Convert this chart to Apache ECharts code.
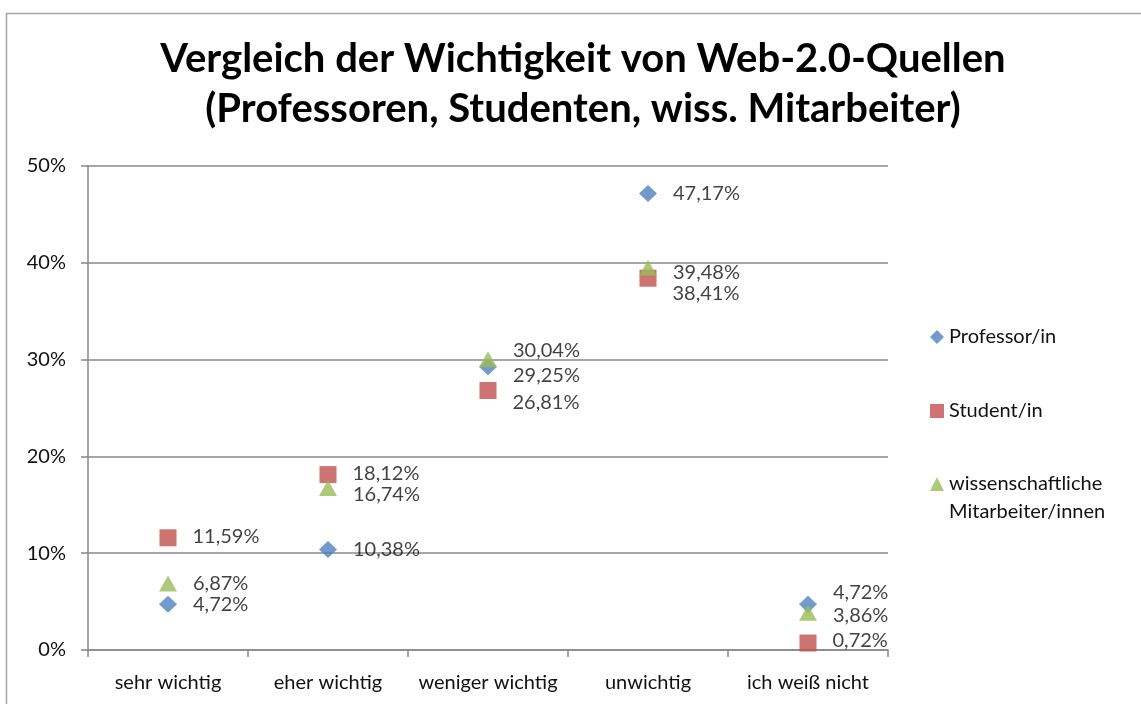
<!DOCTYPE html>
<html>
<head>
<meta charset="utf-8">
<script src="https://cdn.jsdelivr.net/npm/echarts@6/dist/echarts.min.js"></script>
<style>
  html, body { margin: 0; padding: 0; background: #fff; }
  #chart { width: 1141px; height: 704px; }
</style>
</head>
<body>
<div id="chart"></div>
<script>
// Data
var categories = ['sehr wichtig', 'eher wichtig', 'weniger wichtig', 'unwichtig', 'ich weiß nicht'];
var professorValues = [4.72, 10.38, 29.25, 47.17, 4.72];
var studentValues = [11.59, 18.12, 26.81, 38.41, 0.72];
var mitarbeiterValues = [6.87, 16.74, 30.04, 39.48, 3.86];
var yTicks = [0, 10, 20, 30, 40, 50];

// Label vertical shifts (px) so labels don't overlap
var professorShift = [0, 0, 9, 0, -12];
var studentShift = [-1, -1, 12, 15, -2];
var mitarbeiterShift = [0, 7, -9, 5, 3];

var FONT = 'Lato, "Noto Sans", sans-serif';
var TEXT_COLOR = '#111';

function fmt(v) {
    return v.toFixed(2).replace('.', ',') + '%';
}

function buildData(values, shifts) {
    return values.map(function (v, i) {
        return {
            value: v,
            label: { offset: [0, shifts[i]] }
        };
    });
}

var chartElement = document.getElementById('chart');
var chart = echarts.init(chartElement);

var labelStyle = {
    show: true,
    position: 'right',
    distance: 16,
    color: TEXT_COLOR,
    fontSize: 20,
    fontFamily: FONT,
    formatter: function (p) { return fmt(p.value); }
};

var legendText = {
    color: TEXT_COLOR,
    fontSize: 20,
    fontFamily: FONT,
    lineHeight: 28
};

chart.setOption({
    animation: false,
    backgroundColor: '#fff',
    textStyle: { fontFamily: FONT },

    graphic: [{
        type: 'rect',
        left: 4,
        top: 11,
        shape: { width: 1150, height: 710 },
        style: { fill: 'none', stroke: '#a6a6a6', lineWidth: 1.5 }
    }],

    title: {
        text: 'Vergleich der Wichtigkeit von Web-2.0-Quellen\n(Professoren, Studenten, wiss. Mitarbeiter)',
        left: 578,
        textAlign: 'center',
        top: 29,
        textStyle: {
            color: '#000',
            fontSize: 40,
            fontWeight: 'bold',
            fontFamily: FONT,
            lineHeight: 50
        }
    },

    grid: {
        left: 88,
        right: 253,
        top: 166,
        bottom: 54,
        containLabel: false
    },

    legend: [{
        left: 925,
        top: 318,
        itemWidth: 14,
        itemHeight: 14,
        data: [{ name: 'Professor/in', icon: 'diamond' }],
        textStyle: legendText
    }, {
        left: 925,
        top: 392,
        itemWidth: 14,
        itemHeight: 14,
        data: [{ name: 'Student/in', icon: 'rect' }],
        textStyle: legendText
    }, {
        left: 925,
        top: 437,
        itemWidth: 14,
        itemHeight: 14,
        data: [{ name: 'wissenschaftliche Mitarbeiter/innen', icon: 'triangle' }],
        // leading empty line keeps the icon level with the first text line
        formatter: function () { return '\nwissenschaftliche\nMitarbeiter/innen'; },
        textStyle: legendText
    }],

    xAxis: {
        type: 'category',
        data: categories,
        boundaryGap: true,
        axisLine: { lineStyle: { color: '#888', width: 1.5 } },
        axisTick: { show: true, interval: 0, length: 7, lineStyle: { color: '#888', width: 1.5 } },
        axisLabel: {
            interval: 0,
            color: TEXT_COLOR,
            fontSize: 20,
            fontFamily: FONT,
            margin: 23
        },
        splitLine: { show: false }
    },

    yAxis: {
        type: 'value',
        min: 0,
        max: 50,
        interval: 10,
        axisLine: { show: true, lineStyle: { color: '#888', width: 1.5 } },
        axisTick: { show: true, length: 7, lineStyle: { color: '#888', width: 1.5 } },
        axisLabel: {
            color: TEXT_COLOR,
            fontSize: 20,
            fontFamily: FONT,
            margin: 22,
            formatter: function (v) {
                return yTicks.indexOf(Math.round(v)) >= 0 ? Math.round(v) + '%' : '';
            }
        },
        splitLine: { show: true, lineStyle: { color: '#888', width: 1.5 } }
    },

    series: [{
        name: 'Professor/in',
        type: 'scatter',
        symbol: 'diamond',
        symbolSize: [18, 17],
        itemStyle: { color: '#4F81BD' },
        label: labelStyle,
        data: buildData(professorValues, professorShift)
    }, {
        name: 'Student/in',
        type: 'scatter',
        symbol: 'rect',
        symbolSize: 17,
        itemStyle: { color: '#C0504D' },
        label: labelStyle,
        data: buildData(studentValues, studentShift)
    }, {
        name: 'wissenschaftliche Mitarbeiter/innen',
        type: 'scatter',
        symbol: 'triangle',
        symbolSize: [18, 16],
        itemStyle: { color: '#9BBB59' },
        label: labelStyle,
        data: buildData(mitarbeiterValues, mitarbeiterShift)
    }]
});
</script>
</body>
</html>
